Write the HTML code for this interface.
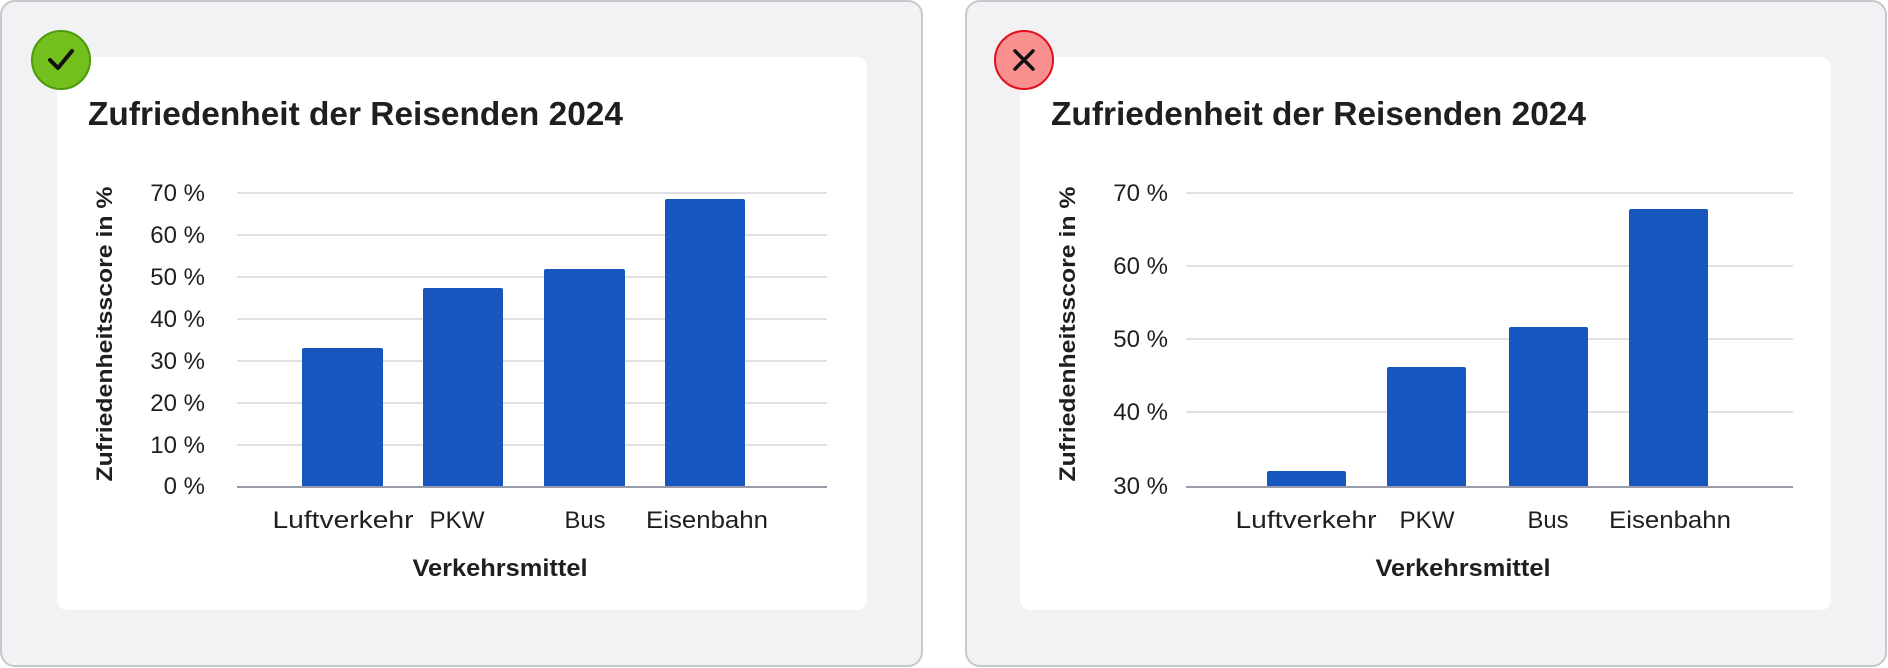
<!DOCTYPE html>
<html><head><meta charset="utf-8"><style>
html,body{margin:0;padding:0;background:#fff;}
svg{display:block;}
text{font-family:"Liberation Sans Narrow","Liberation Sans",sans-serif;fill:#1f1f1f;}
</style></head><body>
<svg width="1888" height="668" viewBox="0 0 1888 668" xmlns="http://www.w3.org/2000/svg">
<!-- LEFT PANEL -->
<g>
<rect x="1" y="1" width="921" height="665" rx="14" fill="#f2f2f4" stroke="#c6c8ce" stroke-width="2"/>
<rect x="57" y="57" width="810" height="553" rx="10" fill="#fff"/>
<circle cx="61" cy="60" r="29" fill="#72bf1e" stroke="#4e9a0c" stroke-width="2"/>
<path d="M50 60 L58 68 L72 51" fill="none" stroke="#111" stroke-width="4" stroke-linecap="round" stroke-linejoin="round"/>
<text x="88" y="125" font-size="33" font-weight="bold" textLength="535" lengthAdjust="spacingAndGlyphs">Zufriedenheit der Reisenden 2024</text>
<g stroke="#e1e1e4" stroke-width="2">
<line x1="237" x2="827" y1="193" y2="193"/><line x1="237" x2="827" y1="235" y2="235"/>
<line x1="237" x2="827" y1="277" y2="277"/><line x1="237" x2="827" y1="319" y2="319"/>
<line x1="237" x2="827" y1="361" y2="361"/><line x1="237" x2="827" y1="403" y2="403"/>
<line x1="237" x2="827" y1="445" y2="445"/>
</g>
<g font-size="24" text-anchor="end">
<text x="205" y="201">70 %</text><text x="205" y="243">60 %</text><text x="205" y="285">50 %</text>
<text x="205" y="327">40 %</text><text x="205" y="369">30 %</text><text x="205" y="411">20 %</text>
<text x="205" y="453">10 %</text><text x="205" y="494">0 %</text>
</g>
<g fill="#1756be">
<rect x="302" y="348" width="81" height="139" rx="2"/>
<rect x="423" y="288" width="80" height="199" rx="2"/>
<rect x="544" y="269" width="81" height="218" rx="2"/>
<rect x="665" y="199" width="80" height="288" rx="2"/>
</g>
<line x1="237" x2="827" y1="487" y2="487" stroke="#9a9ca8" stroke-width="2"/>
<g font-size="24" text-anchor="middle">
<text x="343" y="528" textLength="141" lengthAdjust="spacingAndGlyphs">Luftverkehr</text>
<text x="457" y="528" textLength="55" lengthAdjust="spacingAndGlyphs">PKW</text>
<text x="585" y="528" textLength="41" lengthAdjust="spacingAndGlyphs">Bus</text>
<text x="707" y="528" textLength="122" lengthAdjust="spacingAndGlyphs">Eisenbahn</text>
</g>
<text x="500" y="576" font-size="24" font-weight="bold" text-anchor="middle" textLength="175" lengthAdjust="spacingAndGlyphs">Verkehrsmittel</text>
<text transform="translate(112,334) rotate(-90)" font-size="22" font-weight="bold" text-anchor="middle" textLength="295" lengthAdjust="spacingAndGlyphs" style="font-family:'Liberation Sans',sans-serif">Zufriedenheitsscore in %</text>
</g>
<!-- RIGHT PANEL -->
<g transform="translate(963,0)">
<rect x="3" y="1" width="920" height="665" rx="14" fill="#f2f2f4" stroke="#c6c8ce" stroke-width="2"/>
<rect x="57" y="57" width="811" height="553" rx="10" fill="#fff"/>
<circle cx="61" cy="60" r="29" fill="#f98f8f" stroke="#e0101c" stroke-width="2"/>
<path d="M52 51 L70 69 M70 51 L52 69" stroke="#111" stroke-width="3.5" stroke-linecap="round"/>
<text x="88" y="125" font-size="33" font-weight="bold" textLength="535" lengthAdjust="spacingAndGlyphs">Zufriedenheit der Reisenden 2024</text>
<g stroke="#e1e1e4" stroke-width="2">
<line x1="223" x2="830" y1="193" y2="193"/><line x1="223" x2="830" y1="266" y2="266"/>
<line x1="223" x2="830" y1="339" y2="339"/><line x1="223" x2="830" y1="412" y2="412"/>
</g>
<g font-size="24" text-anchor="end">
<text x="205" y="201">70 %</text><text x="205" y="274">60 %</text><text x="205" y="347">50 %</text>
<text x="205" y="420">40 %</text><text x="205" y="494">30 %</text>
</g>
<g fill="#1756be">
<rect x="304" y="471" width="79" height="16" rx="2"/>
<rect x="424" y="367" width="79" height="120" rx="2"/>
<rect x="546" y="327" width="79" height="160" rx="2"/>
<rect x="666" y="209" width="79" height="278" rx="2"/>
</g>
<line x1="223" x2="830" y1="487" y2="487" stroke="#9a9ca8" stroke-width="2"/>
<g font-size="24" text-anchor="middle">
<text x="343" y="528" textLength="141" lengthAdjust="spacingAndGlyphs">Luftverkehr</text>
<text x="464" y="528" textLength="55" lengthAdjust="spacingAndGlyphs">PKW</text>
<text x="585" y="528" textLength="41" lengthAdjust="spacingAndGlyphs">Bus</text>
<text x="707" y="528" textLength="122" lengthAdjust="spacingAndGlyphs">Eisenbahn</text>
</g>
<text x="500" y="576" font-size="24" font-weight="bold" text-anchor="middle" textLength="175" lengthAdjust="spacingAndGlyphs">Verkehrsmittel</text>
<text transform="translate(112,334) rotate(-90)" font-size="22" font-weight="bold" text-anchor="middle" textLength="295" lengthAdjust="spacingAndGlyphs" style="font-family:'Liberation Sans',sans-serif">Zufriedenheitsscore in %</text>
</g>
</svg>
</body></html>
